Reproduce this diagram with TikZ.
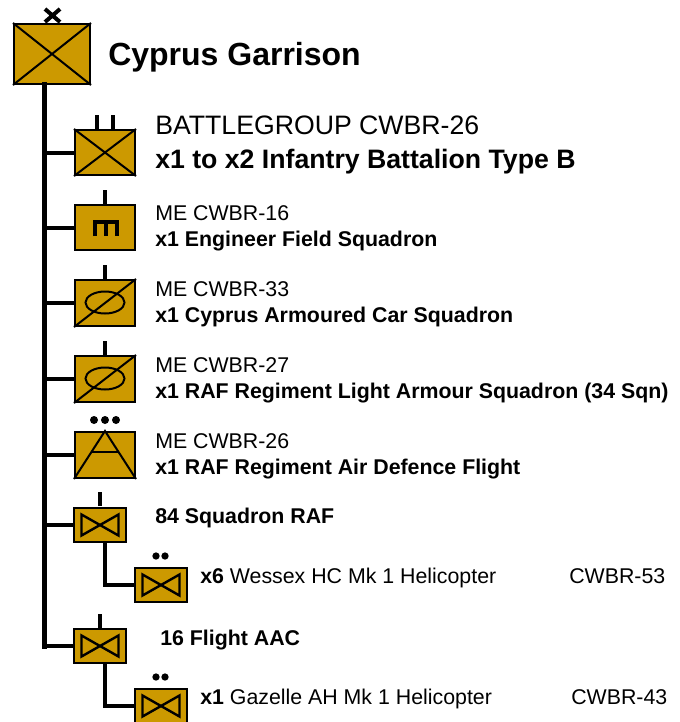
\documentclass[tikz,border=0pt]{standalone}
\usepackage{fontspec}
\setmainfont{Liberation Sans}
\usetikzlibrary{positioning}
\definecolor{UnitGold}{HTML}{CC9900}
\definecolor{Ink}{HTML}{000000}
\tikzset{
  unit/.style={draw=Ink,fill=UnitGold,line width=1.5pt,inner sep=0pt,minimum width=#1*0.75pt},
  sym line/.style={draw=Ink,line width=1.5pt},
  link/.style={draw=Ink,line width=3pt},
  rank dot/.style={fill=Ink,circle,inner sep=0pt,minimum size=6pt},
  lab/.style={anchor=west,inner sep=0pt,text=Ink},
  big lab/.style={lab,font=\fontsize{20pt}{22pt}\selectfont},
  small lab/.style={lab,font=\fontsize{16pt}{18pt}\selectfont},
}
\begin{document}
\begin{tikzpicture}[x=0.75pt,y=-0.75pt]
    \useasboundingbox (0,0) rectangle (680,722);
    \coordinate (spine) at (44.5,84);

    % links first, boxes sit on top
    \node[unit=76,minimum height=45pt] (hq) at (52,54) {};
    \foreach \name/\y/\h in {bn/152.5/45,eng/227.5/45,car/303/46,raf/379/46,ad/455/46} {
      \node[unit=60,minimum height=\h*0.75pt] (\name) at (105,\y) {};
      \draw[link] (\name.west) -- (\name.west -| spine);
    }
    \foreach \name/\y in {sqn/525,flt/646} {
      \node[unit=52,minimum height=25.5pt] (\name) at (100,\y) {};
      \draw[link] (\name.west) -- (\name.west -| spine);
    }
    \foreach \name/\y in {wes/585,gaz/706} {
      \node[unit=52,minimum height=25.5pt] (\name) at (161,\y) {};
    }
    \draw[link,line width=3.75pt,line cap=rect] (spine) -- (spine |- flt.west);
    \coordinate (wesdrop) at (105,542);
    \coordinate (gazdrop) at (105,663);
    \draw[link] (wesdrop) |- (wes.west);
    \draw[link] (gazdrop) |- (gaz.west);

    % crossed boxes
    \foreach \name in {hq,bn} {
      \draw[sym line] (\name.north west) -- (\name.south east);
      \draw[sym line] (\name.north east) -- (\name.south west);
    }
    % engineers
    \draw[draw=Ink,line width=3pt] (94.5,236) -- (94.5,222) -- (116.5,222) -- (116.5,236);
    \draw[draw=Ink,line width=3pt] (105.5,222) -- (105.5,236);
    % armoured
    \foreach \name in {car,raf} {
      \draw[sym line] (\name.north east) -- (\name.south west);
      \draw[sym line] (\name.center) ++(0,-0.5) ellipse (19.5 and 11);
    }
    % air defence
    \draw[sym line] (ad.south west) -- (ad.north) -- (ad.south east);
    \draw[sym line] (92,452) -- (118,452);
    % aviation bow ties
    \foreach \name in {sqn,flt,wes,gaz} {
      \draw[sym line,line width=1.8pt] ([xshift=-18.5*0.75pt,yshift=10.5*0.75pt]\name.center) -- ([xshift=18.5*0.75pt,yshift=-10.5*0.75pt]\name.center)
        -- ([xshift=18.5*0.75pt,yshift=10.5*0.75pt]\name.center) -- ([xshift=-18.5*0.75pt,yshift=-10.5*0.75pt]\name.center) -- cycle;
    }

    % rank marks
    \draw[draw=Ink,line width=3pt] (45,9) -- (60,22) (60,9) -- (45,22);
    \foreach \x in {97,113} \draw[draw=Ink,line width=3pt] (\x,115) -- (\x,129);
    \foreach \x/\y in {105/190,105/265,105/341,100/492,100/614} \draw[draw=Ink,line width=3pt] (\x,\y) -- (\x,\y+14);
    \foreach \x in {94,105,116} \node[rank dot] (dot\x) at (\x,420) {};
    \foreach \x/\y/\name in {156/556/wa,165/556/wb,156/677/ga,165/677/gb} \node[rank dot,minimum size=5.5pt] (\name) at (\x,\y) {};

    % labels
    \node[lab,font=\fontsize{24pt}{26pt}\bfseries] (hqname) at (108,57) {Cyprus Garrison};
    \node[big lab] (bnref) at (155,125) {BATTLEGROUP CWBR-26};
    \node[big lab,font=\fontsize{20pt}{22pt}\bfseries] (bnname) at (155,162) {x1 to x2 Infantry Battalion Type B};
    \foreach \name/\y/\ref/\what in {eng/213/ME CWBR-16/x1 Engineer Field Squadron,
        car/289/ME CWBR-33/x1 Cyprus Armoured Car Squadron,
        raf/365/ME CWBR-27/x1 RAF Regiment Light Armour Squadron (34 Sqn),
        ad/441/ME CWBR-26/x1 RAF Regiment Air Defence Flight} {
      \node[small lab] (\name ref) at (155,\y) {\ref};
      \node[small lab,font=\fontsize{16pt}{18pt}\bfseries] (\name lab) at (155,\y+28) {\what};
    }
    \node[small lab,font=\fontsize{16pt}{18pt}\bfseries] (sqnlab) at (155,518) {84 Squadron RAF};
    \node[small lab,font=\fontsize{16pt}{18pt}\bfseries] (fltlab) at (160,640) {16 Flight AAC};
    \node[small lab] (weslab) at (200,578) {\textbf{x6} Wessex HC Mk 1 Helicopter};
    \node[small lab] (gazlab) at (200,699) {\textbf{x1} Gazelle AH Mk 1 Helicopter};
    \node[small lab] (wesref) at (569,576) {CWBR-53};
    \node[small lab] (gazref) at (571,697) {CWBR-43};
\end{tikzpicture}
\end{document}
